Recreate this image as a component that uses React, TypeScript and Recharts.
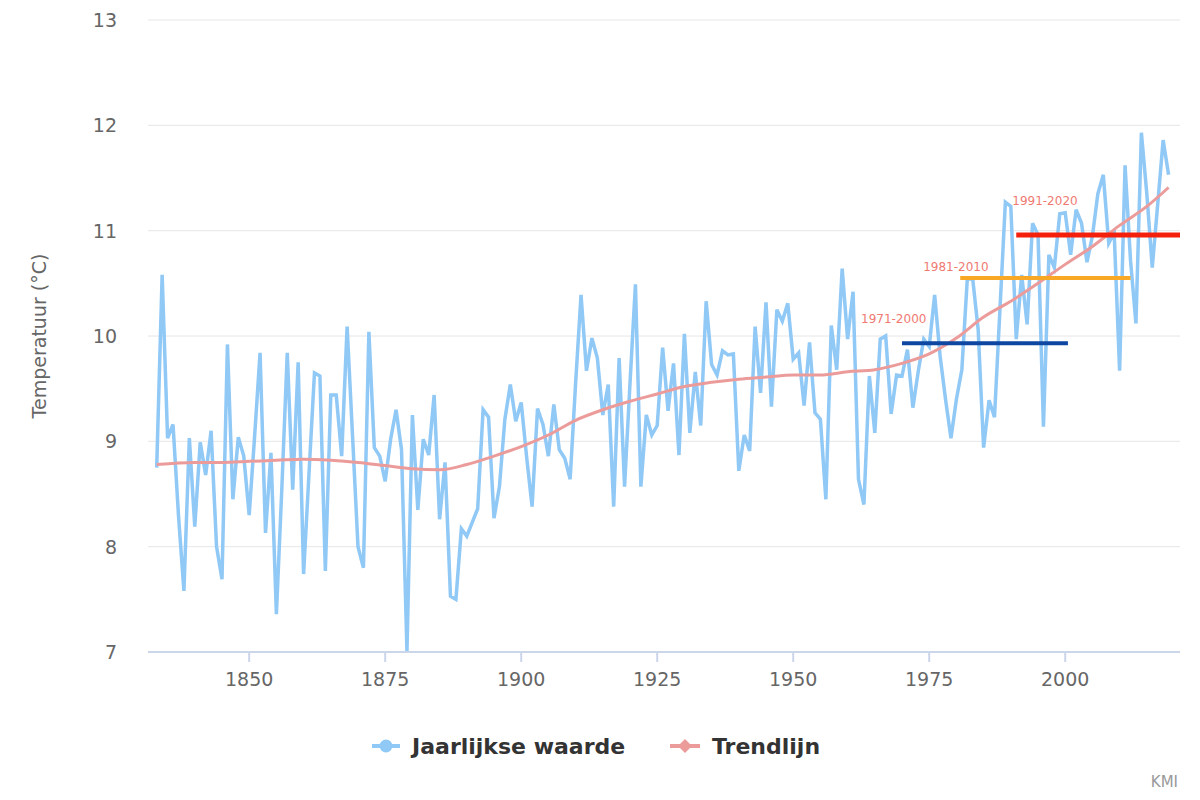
import {
  LineChart,
  Line,
  XAxis,
  YAxis,
  CartesianGrid,
  ReferenceLine,
} from "recharts";

// Ukkel, jaargemiddelde temperatuur (°C), vanaf 1833
const firstYear = 1833;

const annual1833to1879 = [
  8.75, 10.58, 9.03, 9.16, 8.3, 7.58, 9.03, 8.19, 8.99, 8.68, 9.1, 8.0, 7.69, 9.92,
  8.45, 9.04, 8.86, 8.3, 9.05, 9.84, 8.13, 8.89, 7.36, 8.55, 9.84, 8.54, 9.75, 7.74,
  8.7, 9.65, 9.62, 7.77, 9.44, 9.44, 8.86, 10.09, 9.05, 8.0, 7.8, 10.04, 8.94, 8.86,
  8.62, 9.02, 9.3, 8.92, 7.01,
];

const annual1880to1929 = [
  9.25, 8.35, 9.02, 8.87, 9.44, 8.26, 8.8, 7.53, 7.5, 8.17, 8.1, 8.23, 8.36, 9.3,
  9.23, 8.27, 8.57, 9.21, 9.54, 9.19, 9.37, 8.85, 8.38, 9.31, 9.16, 8.86, 9.35, 8.92,
  8.84, 8.64, 9.55, 10.39, 9.67, 9.98, 9.79, 9.25, 9.54, 8.38, 9.79, 8.57, 9.55, 10.49,
  8.57, 9.25, 9.06, 9.15, 9.89, 9.29, 9.74, 8.87,
];

const annual1930to1979 = [
  10.02, 9.08, 9.66, 9.15, 10.33, 9.73, 9.63, 9.86, 9.82, 9.83, 8.72, 9.06, 8.91, 10.09,
  9.46, 10.32, 9.33, 10.25, 10.14, 10.31, 9.78, 9.84, 9.34, 9.94, 9.27, 9.21, 8.45, 10.1,
  9.68, 10.64, 9.97, 10.42, 8.64, 8.4, 9.62, 9.08, 9.97, 10.0, 9.26, 9.63, 9.62, 9.87,
  9.32, 9.67, 9.97, 9.9, 10.39, 9.81, 9.4, 9.03,
];

const annual1980to2019 = [
  9.4, 9.68, 10.54, 10.54, 10.06, 8.94, 9.39, 9.23, 10.25, 11.27, 11.23, 9.97, 10.58,
  10.11, 11.07, 10.96, 9.14, 10.77, 10.65, 11.16, 11.17, 10.77, 11.2, 11.07, 10.7, 10.95,
  11.35, 11.53, 10.88, 10.98, 9.67, 11.62, 10.72, 10.12, 11.93, 11.35, 10.65, 11.25,
  11.86, 11.53,
];

const trendYears = [
  1833, 1840, 1845, 1850, 1855, 1860, 1865, 1870, 1875, 1880, 1885, 1890, 1895, 1900,
  1905, 1910, 1915, 1920, 1925, 1930, 1935, 1940, 1945, 1950, 1955, 1960, 1965, 1970,
  1975, 1980, 1985, 1990, 1995, 2000, 2005, 2010, 2015, 2019,
];
const trendValues = [
  8.78, 8.8, 8.8, 8.81, 8.82, 8.83, 8.82, 8.8, 8.77, 8.74, 8.73, 8.78, 8.86, 8.95,
  9.06, 9.2, 9.3, 9.38, 9.45, 9.52, 9.56, 9.59, 9.61, 9.63, 9.63, 9.66, 9.68, 9.74,
  9.83, 9.98, 10.18, 10.33, 10.5, 10.68, 10.85, 11.05, 11.23, 11.41,
];

// normaalperiodes
const periodNames = ["1971-2000", "1981-2010", "1991-2020"];
const periodFrom = [1970, 1980.7, 1991];
const periodTo = [2000.5, 2012, 2021.1];
const periodMeans = [9.93, 10.55, 10.96];
const periodColors = ["#0d47a1", "#f9a825", "#f4200c"];
const periodWidths = [4, 4, 5];
const periodLabelOffset = [
  [-41, -24],
  [-37, -11],
  [-4, -34],
];

const yTicks = [7, 8, 9, 10, 11, 12, 13];
const xTicks = [1850, 1875, 1900, 1925, 1950, 1975, 2000];

const annualValues = [
  ...annual1833to1879,
  ...annual1880to1929,
  ...annual1930to1979,
  ...annual1980to2019,
];
const annualData = annualValues.map((temp, i) => ({ year: firstYear + i, temp }));
const trendData = trendYears.map((year, i) => ({ year, temp: trendValues[i] }));

const font = "'DejaVu Sans', Verdana, sans-serif";

function PeriodLabel(props: any) {
  const vb = props.viewBox || {};
  const x = vb.x1 ?? vb.x;
  const y = vb.y1 ?? vb.y;
  if (x == null || y == null) return null;
  return (
    <text
      x={x + props.dx}
      y={y + props.dy}
      fill="#f07a72"
      fontSize={12}
      fontFamily={font}
      dominantBaseline="central"
    >
      {props.text}
    </text>
  );
}

// y-labels staan 31px links van het plotvlak
function YTick(props: any) {
  return (
    <text
      x={140 - 31}
      y={props.y}
      fill="#666"
      fontSize={19}
      fontFamily={font}
      textAnchor="end"
      dominantBaseline="central"
    >
      {props.payload.value}
    </text>
  );
}

export default function App() {
  return (
    <div style={{ position: "relative", width: 1184, height: 784 }}>
      <LineChart
        width={1184}
        height={784}
        margin={{ top: 12, right: 12, bottom: 100, left: 0 }}
      >
        <CartesianGrid vertical={false} stroke="#e6e6e6" strokeWidth={1} />
        <XAxis
          dataKey="year"
          type="number"
          domain={[1831.4, 2021.1]}
          allowDataOverflow
          ticks={xTicks}
          height={40}
          stroke="#ccd6eb"
          strokeWidth={2}
          tickSize={10}
          tickMargin={11}
          tick={{ fill: "#666", fontSize: 19, fontFamily: font }}
        />
        <YAxis
          type="number"
          domain={[7, 13]}
          ticks={yTicks}
          width={140}
          axisLine={false}
          tickLine={false}
          tick={<YTick />}
          label={{
            value: "Temperatuur (°C)",
            angle: -90,
            position: "insideLeft",
            offset: 31,
            style: { fill: "#666", fontSize: 19, fontFamily: font, textAnchor: "middle" },
          }}
        />
        <Line
          data={annualData}
          dataKey="temp"
          type="linear"
          stroke="#90c8f6"
          strokeWidth={3.5}
          dot={false}
          isAnimationActive={false}
        />
        <Line
          data={trendData}
          dataKey="temp"
          type="monotone"
          stroke="#ec9b9b"
          strokeWidth={3}
          dot={false}
          isAnimationActive={false}
        />
        {periodNames.map((name, i) => (
          <ReferenceLine
            key={name}
            segment={[
              { x: periodFrom[i], y: periodMeans[i] },
              { x: periodTo[i], y: periodMeans[i] },
            ]}
            stroke={periodColors[i]}
            strokeWidth={periodWidths[i]}
            ifOverflow="visible"
            label={
              <PeriodLabel
                text={name}
                dx={periodLabelOffset[i][0]}
                dy={periodLabelOffset[i][1]}
              />
            }
          />
        ))}
      </LineChart>
      <svg
        width={1184}
        height={784}
        style={{ position: "absolute", left: 0, top: 0, pointerEvents: "none" }}
      >
        <g transform="translate(-8,-8)">
          <line x1={372} x2={400} y1={746} y2={746} stroke="#90c8f6" strokeWidth={4} />
          <circle cx={386} cy={746} r={6.5} fill="#90c8f6" />
          <text
            x={412}
            y={746}
            fill="#333"
            fontSize={22}
            fontWeight="bold"
            fontFamily={font}
            dominantBaseline="central"
          >
            Jaarlijkse waarde
          </text>
          <line x1={670} x2={700} y1={746} y2={746} stroke="#ec9b9b" strokeWidth={4} />
          <path d="M685 739 L692 746 L685 753 L678 746 Z" fill="#ec9b9b" />
          <text
            x={712}
            y={746}
            fill="#333"
            fontSize={22}
            fontWeight="bold"
            fontFamily={font}
            dominantBaseline="central"
          >
            Trendlijn
          </text>
          <text
            x={1178}
            y={782}
            fill="#999"
            fontSize={15}
            fontFamily={font}
            textAnchor="end"
            dominantBaseline="central"
          >
            KMI
          </text>
        </g>
      </svg>
    </div>
  );
}
